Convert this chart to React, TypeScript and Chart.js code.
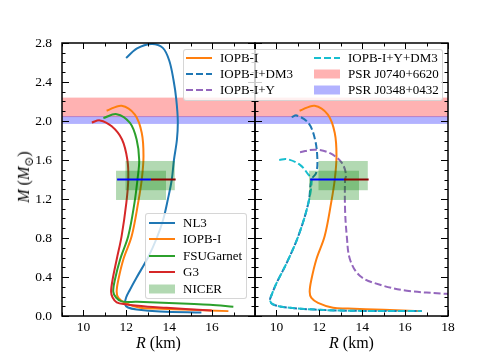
import React, { useEffect, useRef } from "react";
import { Chart, registerables } from "chart.js";
Chart.register(...registerables);

// ---------------- data ----------------
const X_MIN = 9;
const X_MAX = 18;
const Y_MIN = 0;
const Y_MAX = 2.8;
const xTickLabelsLeft = [10, 12, 14, 16];
const xTickLabelsRight = [10, 12, 14, 16, 18];
const yTickLabels = [0, 0.4, 0.8, 1.2, 1.6, 2.0, 2.4, 2.8];

// Left panel: parameter sets
const nl3R = [11.99, 12.5, 13.18, 13.7, 14.0, 14.2, 14.33, 14.4, 14.36, 14.22, 14.12, 13.94, 13.72, 13.42, 13.01, 12.48, 12.17, 11.99, 11.94, 12.08, 12.48, 13.57, 15.5];
const nl3M = [2.645, 2.745, 2.79, 2.75, 2.62, 2.42, 2.22, 2.0, 1.81, 1.6, 1.4, 1.2, 0.99, 0.8, 0.6, 0.395, 0.27, 0.19, 0.12, 0.087, 0.067, 0.046, 0.035];

const iopbR = [11.08, 11.78, 12.4, 12.72, 12.8, 12.72, 12.55, 12.25, 11.86, 11.63, 11.55, 11.63, 11.94, 12.64, 13.34, 15.0, 16.76];
const iopbM = [2.105, 2.157, 2.065, 1.877, 1.64, 1.4, 1.16, 0.82, 0.58, 0.374, 0.25, 0.186, 0.135, 0.084, 0.077, 0.063, 0.05];

const fsuR = [10.93, 11.55, 12.17, 12.48, 12.6, 12.52, 12.38, 12.09, 11.71, 11.47, 11.39, 11.52, 11.78, 12.5, 13.1, 14.89, 15.9, 16.99];
const fsuM = [2.03, 2.07, 1.98, 1.81, 1.6, 1.4, 1.16, 0.82, 0.58, 0.374, 0.25, 0.19, 0.15, 0.145, 0.14, 0.125, 0.115, 0.094];

const g3R = [10.39, 10.77, 11.32, 11.8, 12.05, 12.09, 12.0, 11.78, 11.55, 11.36, 11.29, 11.36, 11.55, 11.94, 13.0, 13.88, 15.98];
const g3M = [1.985, 2.006, 1.945, 1.81, 1.6, 1.4, 1.16, 0.82, 0.58, 0.374, 0.25, 0.19, 0.14, 0.12, 0.095, 0.084, 0.056];

// Right panel: dark matter / hyperon variants
const dm3R = [10.71, 10.94, 11.49, 11.8, 11.91, 11.85, 11.64, 11.49, 11.02, 10.48, 10.01, 9.78, 9.7, 9.85, 10.63, 12.96, 16.78];
const dm3M = [2.04, 2.057, 1.98, 1.81, 1.6, 1.467, 1.4, 1.16, 0.82, 0.545, 0.34, 0.22, 0.16, 0.118, 0.084, 0.056, 0.05];

const hypR = [11.1, 11.8, 12.5, 13.05, 13.25, 13.2, 13.2, 13.28, 13.43, 13.9, 14.83, 16.08, 17.94, 18.5];
const hypM = [1.68, 1.706, 1.67, 1.57, 1.45, 1.4, 1.09, 0.82, 0.58, 0.41, 0.32, 0.26, 0.227, 0.222];

const hypDm3R = [10.13, 10.48, 11.1, 11.49, 11.64, 11.49, 11.02, 10.48, 10.01, 9.78, 9.7, 9.85, 10.63, 12.96, 16.78];
const hypDm3M = [1.6, 1.61, 1.55, 1.45, 1.4, 1.16, 0.82, 0.545, 0.34, 0.22, 0.16, 0.118, 0.084, 0.056, 0.05];

// Observational constraints
const psrJ0740M = [2.04, 2.24];
const psrJ0348M = [1.97, 2.05];
const nicerRileyR = [11.52, 13.85];
const nicerRileyM = [1.19, 1.49];
const nicerMillerR = [11.96, 14.26];
const nicerMillerM = [1.29, 1.59];
const r14M = [1.4, 1.4];
const r14BlueR = [11.57, 13.15];
const r14RedR = [13.15, 14.3];

// ---------------- styling ----------------
const SERIF = "'Liberation Serif', 'DejaVu Serif', serif";
const C_BLUE = "#1f77b4";
const C_ORANGE = "#ff7f0e";
const C_GREEN = "#2ca02c";
const C_RED = "#d62728";
const C_PURPLE = "#9467bd";
const C_CYAN = "#17becf";
const BAND_RED = "rgba(255,0,0,0.3)";
const BAND_BLUE = "rgba(0,0,255,0.3)";
const NICER_GREEN = "rgba(0,128,0,0.3)";
const DASH = [7, 3];

const pts = (R: number[], M: number[]) => R.map((r, i) => ({ x: r, y: M[i] }));

function curve(R: number[], M: number[], color: string, order: number, dashed = false) {
  return {
    data: pts(R, M),
    borderColor: color,
    backgroundColor: color,
    borderWidth: 2,
    borderDash: dashed ? DASH : [],
    pointRadius: 0,
    showLine: true,
    tension: 0.35,
    fill: false,
    order,
  };
}

function hlines() {
  return [
    { ...curve(r14BlueR, r14M, "#0000ff", 1), tension: 0, nicerBefore: true },
    { ...curve(r14RedR, r14M, "#8b0000", 0), tension: 0 },
  ];
}

const bandsPlugin = {
  id: "bands",
  beforeDatasetsDraw(chart: any) {
    const { ctx, chartArea: a, scales } = chart;
    const y = scales.y;
    ctx.save();
    ctx.beginPath();
    ctx.rect(a.left, a.top, a.right - a.left, a.bottom - a.top);
    ctx.clip();
    const band = (m: number[], c: string) => {
      const y1 = y.getPixelForValue(m[1]);
      const y0 = y.getPixelForValue(m[0]);
      ctx.fillStyle = c;
      ctx.fillRect(a.left, y1, a.right - a.left, y0 - y1);
    };
    band(psrJ0740M, BAND_RED);
    band(psrJ0348M, BAND_BLUE);
    ctx.restore();
  },
  beforeDatasetDraw(chart: any, args: any) {
    const ds = chart.data.datasets[args.index];
    if (!ds || !ds.nicerBefore) return;
    const { ctx, chartArea: a, scales } = chart;
    const { x, y } = scales;
    ctx.save();
    ctx.beginPath();
    ctx.rect(a.left, a.top, a.right - a.left, a.bottom - a.top);
    ctx.clip();
    const box = (R: number[], M: number[]) => {
      const x0 = x.getPixelForValue(R[0]);
      const x1 = x.getPixelForValue(R[1]);
      const y0 = y.getPixelForValue(M[0]);
      const y1 = y.getPixelForValue(M[1]);
      ctx.fillStyle = NICER_GREEN;
      ctx.fillRect(x0, y1, x1 - x0, y0 - y1);
    };
    box(nicerRileyR, nicerRileyM);
    box(nicerMillerR, nicerMillerM);
    ctx.restore();
  },
};

const framePlugin = {
  id: "frame",
  afterDatasetsDraw(chart: any) {
    const { ctx, chartArea: a, scales } = chart;
    const { x, y } = scales;
    ctx.save();
    ctx.strokeStyle = "#000";
    ctx.lineWidth = 1;
    ctx.beginPath();
    for (let v = X_MIN; v <= X_MAX; v += 1) {
      const px = Math.round(x.getPixelForValue(v)) + 0.5;
      const len = v % 2 === 0 ? 6 : 3.5;
      ctx.moveTo(px, a.bottom);
      ctx.lineTo(px, a.bottom - len);
      ctx.moveTo(px, a.top);
      ctx.lineTo(px, a.top + len);
    }
    for (let i = 0; i <= 28; i++) {
      const py = Math.round(y.getPixelForValue(i / 10)) + 0.5;
      const len = i % 4 === 0 ? 7 : 3.5;
      ctx.moveTo(a.left, py);
      ctx.lineTo(a.left + len, py);
      ctx.moveTo(a.right, py);
      ctx.lineTo(a.right - len, py);
    }
    ctx.stroke();
    ctx.lineWidth = 1.5;
    ctx.strokeRect(a.left, a.top, a.right - a.left, a.bottom - a.top);
    ctx.restore();
  },
};

function buildConfig(datasets: any[], left: boolean) {
  const xLabels = left ? xTickLabelsLeft : xTickLabelsRight;
  return {
    type: "scatter",
    data: { datasets },
    options: {
      animation: false,
      responsive: false,
      events: [],
      layout: { padding: { top: 43, right: left ? 2 : 50, left: 0, bottom: 0 } },
      plugins: { legend: { display: false }, tooltip: { enabled: false } },
      scales: {
        x: {
          type: "linear",
          min: X_MIN,
          max: X_MAX,
          grid: { display: false, drawTicks: false },
          border: { display: false },
          afterBuildTicks: (s: any) => {
            s.ticks = xLabels.map((v) => ({ value: v }));
          },
          afterFit: (s: any) => {
            s.height = 40;
          },
          ticks: {
            color: "#000",
            font: { family: SERIF, size: 13.5 },
            padding: 3,
            maxRotation: 0,
            autoSkip: false,
            callback: (v: any) => String(v),
          },
        },
        y: {
          type: "linear",
          min: Y_MIN,
          max: Y_MAX,
          grid: { display: false, drawTicks: false },
          border: { display: false },
          afterBuildTicks: (s: any) => {
            s.ticks = yTickLabels.map((v) => ({ value: v }));
          },
          afterFit: (s: any) => {
            s.width = left ? 62 : 2;
          },
          ticks: {
            display: left,
            color: "#000",
            font: { family: SERIF, size: 13.5 },
            padding: 10,
            callback: (v: any) => Number(v).toFixed(1),
          },
        },
      },
    },
    plugins: [bandsPlugin, framePlugin],
  };
}

function Handle({ color, dashed, patch }: { color: string; dashed?: boolean; patch?: boolean }) {
  if (patch) {
    return (
      <svg width={26} height={10} style={{ display: "block" }}>
        <rect x={0} y={0.5} width={26} height={9} fill={color} />
      </svg>
    );
  }
  return (
    <svg width={26} height={10} style={{ display: "block" }}>
      <line x1={0} y1={5} x2={26} y2={5} stroke={color} strokeWidth={2} strokeDasharray={dashed ? "7,3" : undefined} />
    </svg>
  );
}

type Entry = { label: string; color: string; dashed?: boolean; patch?: boolean };

function LegendItem({ e, x, y, hx }: { e: Entry; x: number; y: number; hx: number }) {
  return (
    <>
      <div style={{ position: "absolute", left: hx, top: y - 5 }}>
        <Handle color={e.color} dashed={e.dashed} patch={e.patch} />
      </div>
      <div
        style={{
          position: "absolute",
          left: x,
          top: y - 8,
          height: 16,
          lineHeight: "16px",
          fontFamily: SERIF,
          fontSize: 13,
          whiteSpace: "nowrap",
          color: "#000",
        }}
      >
        {e.label}
      </div>
    </>
  );
}

const legendBox = (left: number, top: number, width: number, height: number): React.CSSProperties => ({
  position: "absolute",
  left,
  top,
  width,
  height,
  background: "rgba(255,255,255,0.8)",
  border: "1px solid rgba(204,204,204,0.8)",
  borderRadius: 3,
  boxSizing: "border-box",
});

export default function App() {
  const leftRef = useRef<HTMLCanvasElement>(null);
  const rightRef = useRef<HTMLCanvasElement>(null);

  useEffect(() => {
    const leftSets = [
      curve(nl3R, nl3M, C_BLUE, 13),
      curve(iopbR, iopbM, C_ORANGE, 12),
      curve(fsuR, fsuM, C_GREEN, 11),
      curve(g3R, g3M, C_RED, 10),
      ...hlines(),
    ];
    const rightSets = [
      curve(iopbR, iopbM, C_ORANGE, 13),
      curve(dm3R, dm3M, C_BLUE, 12, true),
      curve(hypR, hypM, C_PURPLE, 11, true),
      curve(hypDm3R, hypDm3M, C_CYAN, 10, true),
      ...hlines(),
    ];
    const c1 = new Chart(leftRef.current as HTMLCanvasElement, buildConfig(leftSets, true) as any);
    const c2 = new Chart(rightRef.current as HTMLCanvasElement, buildConfig(rightSets, false) as any);
    return () => {
      c1.destroy();
      c2.destroy();
    };
  }, []);

  const topCol1: Entry[] = [
    { label: "IOPB-I", color: C_ORANGE },
    { label: "IOPB-I+DM3", color: C_BLUE, dashed: true },
    { label: "IOPB-I+Y", color: C_PURPLE, dashed: true },
  ];
  const topCol2: Entry[] = [
    { label: "IOPB-I+Y+DM3", color: C_CYAN, dashed: true },
    { label: "PSR J0740+6620", color: BAND_RED, patch: true },
    { label: "PSR J0348+0432", color: BAND_BLUE, patch: true },
  ];
  const lowEntries: Entry[] = [
    { label: "NL3", color: C_BLUE },
    { label: "IOPB-I", color: C_ORANGE },
    { label: "FSUGarnet", color: C_GREEN },
    { label: "G3", color: C_RED },
    { label: "NICER", color: NICER_GREEN, patch: true },
  ];
  const topRows = [58, 74, 90];
  const lowRows = [222.5, 239, 255.5, 272, 288.5];

  return (
    <div style={{ position: "fixed", left: 0, top: 0, width: 498, height: 356, background: "#fff", overflow: "hidden" }}>
      <canvas ref={leftRef} width={257} height={356} style={{ position: "absolute", left: 0, top: 0 }} />
      <canvas ref={rightRef} width={245} height={356} style={{ position: "absolute", left: 253, top: 0 }} />

      {/* top legend */}
      <div style={legendBox(182.5, 49, 260, 52)} />
      {topCol1.map((e, i) => (
        <LegendItem key={"a" + i} e={e} hx={186} x={220} y={topRows[i]} />
      ))}
      {topCol2.map((e, i) => (
        <LegendItem key={"b" + i} e={e} hx={314} x={348} y={topRows[i]} />
      ))}

      {/* lower-left legend */}
      <div style={legendBox(145, 213, 102, 86)} />
      {lowEntries.map((e, i) => (
        <LegendItem key={"c" + i} e={e} hx={149} x={183} y={lowRows[i]} />
      ))}

      {/* axis titles */}
      {[158.5, 351.5].map((cx, i) => (
        <div
          key={"xt" + i}
          style={{
            position: "absolute",
            left: cx,
            top: 343,
            transform: "translate(-50%,-50%)",
            fontFamily: SERIF,
            fontSize: 16,
            whiteSpace: "nowrap",
            color: "#000",
          }}
        >
          <span style={{ fontStyle: "italic" }}>R</span> (km)
        </div>
      ))}
      <div
        style={{
          position: "absolute",
          left: 26,
          top: 177,
          transform: "translate(-50%,-50%) rotate(-90deg)",
          fontFamily: SERIF,
          fontSize: 16,
          whiteSpace: "nowrap",
          color: "#000",
        }}
      >
        <span style={{ fontStyle: "italic" }}>M</span> (<span style={{ fontStyle: "italic" }}>M</span>
        <sub style={{ fontSize: 12 }}>⊙</sub>)
      </div>
    </div>
  );
}
